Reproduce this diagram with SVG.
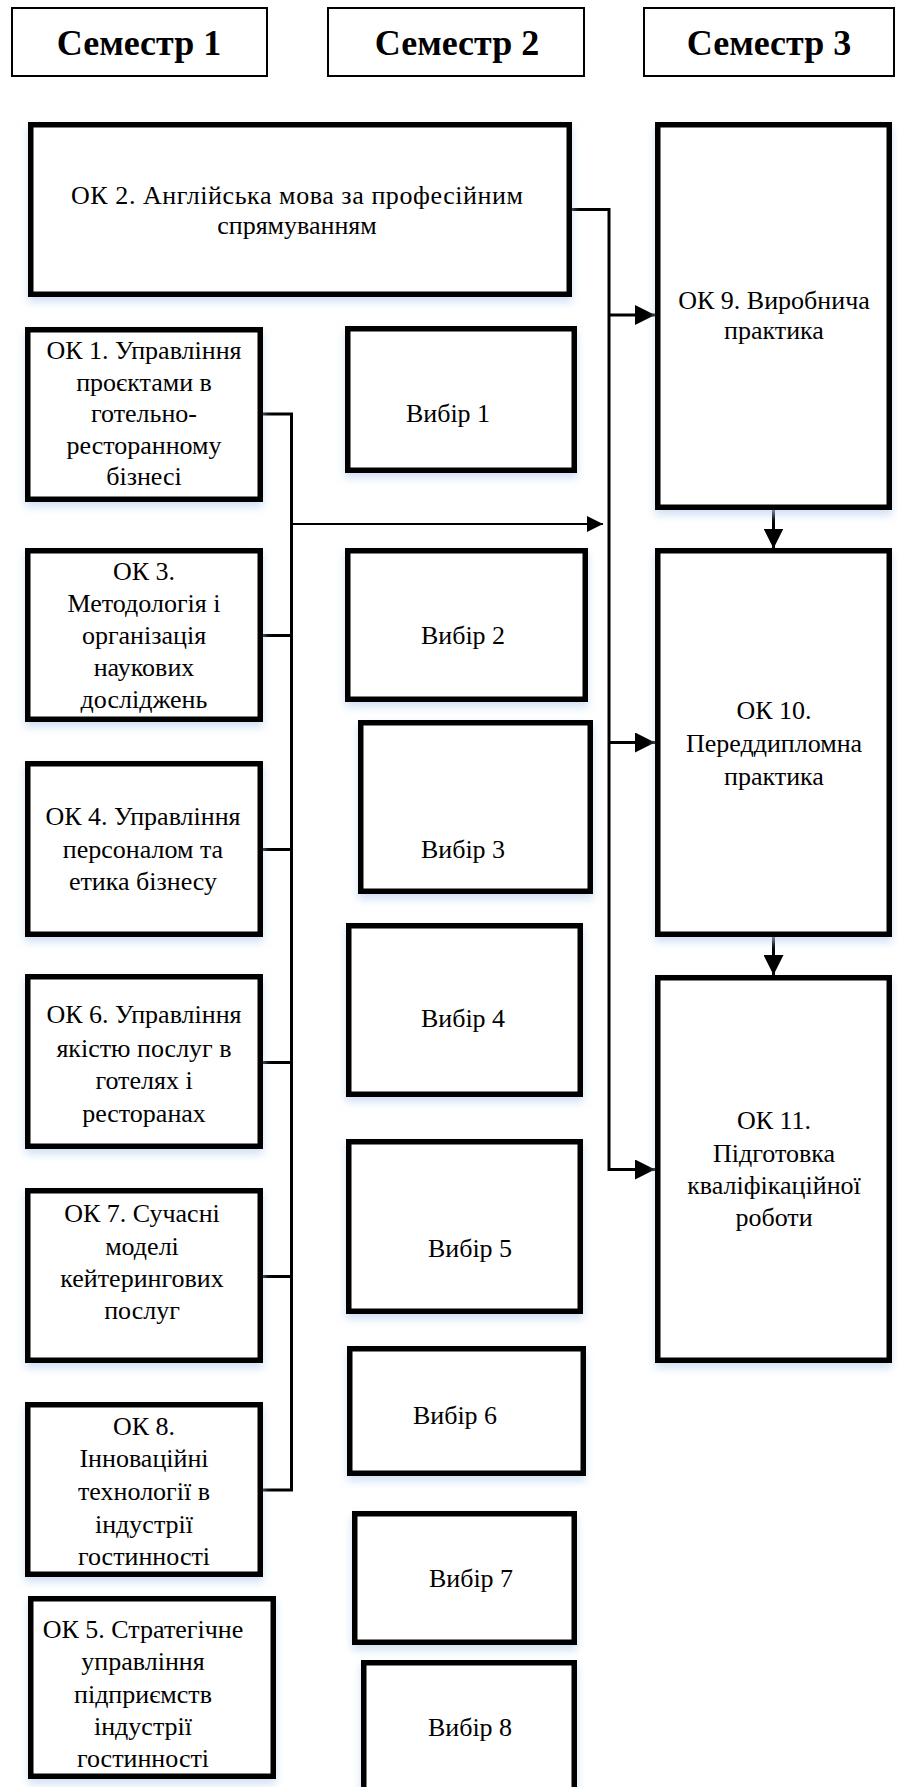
<svg xmlns="http://www.w3.org/2000/svg" width="898" height="1787" viewBox="0 0 898 1787">
<style>
.bg{fill:#ffffff}
.hdr{fill:#ffffff;stroke:#000;stroke-width:2}
.box{fill:#ffffff;stroke:#000;stroke-width:5.5;filter:url(#sh)}
.t{font-size:26px;text-anchor:middle;fill:#000}
.h{font-size:36px;font-weight:bold;text-anchor:middle;fill:#000}
.c{fill:none;stroke:#000;stroke-width:3}
.c2{fill:none;stroke:#000;stroke-width:2}
</style>
<defs>
<filter id="sh" x="-10%" y="-10%" width="120%" height="130%">
<feDropShadow dx="0" dy="5" stdDeviation="4" flood-color="#bcd2ee" flood-opacity="0.7"/>
</filter>
<marker id="ah" viewBox="0 0 20 20" refX="20" refY="10" markerWidth="20" markerHeight="20" markerUnits="userSpaceOnUse" orient="auto">
<path d="M0,0 L20,10 L0,20 Z" fill="#000"/>
</marker>
<marker id="as" viewBox="0 0 16 16" refX="16" refY="8" markerWidth="16" markerHeight="16" markerUnits="userSpaceOnUse" orient="auto">
<path d="M0,0 L16,8 L0,16 Z" fill="#000"/>
</marker>
</defs>
<rect class="bg" x="0" y="0" width="898" height="1787"/>
<g font-family="Liberation Serif, Times New Roman, DejaVu Serif, serif">
<g id="sem1"><rect class="hdr" x="12" y="8" width="255" height="68"/><text class="h" x="139" y="55">Семестр 1</text></g>
<g id="sem2"><rect class="hdr" x="328" y="8" width="256" height="68"/><text class="h" x="457" y="55">Семестр 2</text></g>
<g id="sem3"><rect class="hdr" x="644" y="8" width="250" height="68"/><text class="h" x="769" y="55">Семестр 3</text></g>

<g id="connectors">
<path class="c" d="M572,209.5 H609 V1169.5 H655" marker-end="url(#ah)"/>
<path class="c" d="M609,315 H655" marker-end="url(#ah)"/>
<path class="c" d="M609,742.5 H655" marker-end="url(#ah)"/>
<path class="c" d="M773.5,510 V548.5" marker-end="url(#ah)"/>
<path class="c" d="M773.5,937 V975" marker-end="url(#ah)"/>
<path class="c" d="M263,414 H291.5 V1490 H263"/>
<path class="c" d="M263,635.5 H291.5"/>
<path class="c" d="M263,849.5 H291.5"/>
<path class="c" d="M263,1062.5 H291.5"/>
<path class="c" d="M263,1276.5 H291.5"/>
<path class="c2" d="M291.5,524 H603" marker-end="url(#as)"/>
</g>

<g id="ok2"><rect class="box" x="30.75" y="124.75" width="538.5" height="169.5"/>
<text class="t" x="297" y="204" textLength="452" lengthAdjust="spacing">ОК 2. Англійська мова за професійним</text>
<text class="t" x="297" y="234">спрямуванням</text></g>

<g id="ok9"><rect class="box" x="657.75" y="124.75" width="231.5" height="382.5"/>
<text class="t" x="774" y="309">ОК 9. Виробнича</text>
<text class="t" x="774" y="339">практика</text></g>

<g id="ok1"><rect class="box" x="27.75" y="329.75" width="232.5" height="169.5"/>
<text class="t" x="144" y="359">ОК 1. Управління</text>
<text class="t" x="144" y="390.5">проєктами в</text>
<text class="t" x="144" y="422">готельно-</text>
<text class="t" x="144" y="453.5">ресторанному</text>
<text class="t" x="144" y="485">бізнесі</text></g>

<g id="vybir1"><rect class="box" x="347.75" y="328.75" width="226.5" height="141.5"/>
<text class="t" x="448" y="422">Вибір 1</text></g>

<g id="ok3"><rect class="box" x="27.75" y="550.75" width="232.5" height="168.5"/>
<text class="t" x="144" y="580">ОК 3.</text>
<text class="t" x="144" y="612">Методологія і</text>
<text class="t" x="144" y="644">організація</text>
<text class="t" x="144" y="676">наукових</text>
<text class="t" x="144" y="708">досліджень</text></g>

<g id="vybir2"><rect class="box" x="347.75" y="550.75" width="237.5" height="148.5"/>
<text class="t" x="463" y="644">Вибір 2</text></g>

<g id="ok10"><rect class="box" x="657.75" y="550.75" width="231.5" height="383.5"/>
<text class="t" x="774" y="719">ОК 10.</text>
<text class="t" x="774" y="752">Переддипломна</text>
<text class="t" x="774" y="785">практика</text></g>

<g id="vybir3"><rect class="box" x="360.75" y="722.75" width="229.5" height="168.5"/>
<text class="t" x="463" y="858">Вибір 3</text></g>

<g id="ok4"><rect class="box" x="27.75" y="763.75" width="232.5" height="170.5"/>
<text class="t" x="143" y="825">ОК 4. Управління</text>
<text class="t" x="143" y="857.5">персоналом та</text>
<text class="t" x="143" y="890">етика бізнесу</text></g>

<g id="vybir4"><rect class="box" x="348.75" y="925.75" width="231.5" height="168.5"/>
<text class="t" x="463" y="1027">Вибір 4</text></g>

<g id="ok6"><rect class="box" x="27.75" y="976.75" width="232.5" height="169.5"/>
<text class="t" x="144" y="1023">ОК 6. Управління</text>
<text class="t" x="144" y="1056.5">якістю послуг в</text>
<text class="t" x="144" y="1088.5">готелях і</text>
<text class="t" x="144" y="1121.5">ресторанах</text></g>

<g id="ok11"><rect class="box" x="657.75" y="977.75" width="231.5" height="382.5"/>
<text class="t" x="774" y="1129">ОК 11.</text>
<text class="t" x="774" y="1162">Підготовка</text>
<text class="t" x="774" y="1193.5">кваліфікаційної</text>
<text class="t" x="774" y="1225.5">роботи</text></g>

<g id="vybir5"><rect class="box" x="348.75" y="1141.75" width="231.5" height="169.5"/>
<text class="t" x="470" y="1257">Вибір 5</text></g>

<g id="ok7"><rect class="box" x="27.75" y="1190.75" width="232.5" height="169.5"/>
<text class="t" x="142" y="1221.5">ОК 7. Сучасні</text>
<text class="t" x="142" y="1255">моделі</text>
<text class="t" x="142" y="1286.5">кейтерингових</text>
<text class="t" x="142" y="1318.5">послуг</text></g>

<g id="vybir6"><rect class="box" x="349.75" y="1348.75" width="233.5" height="124.5"/>
<text class="t" x="455" y="1424">Вибір 6</text></g>

<g id="ok8"><rect class="box" x="27.75" y="1404.75" width="232.5" height="169.5"/>
<text class="t" x="144" y="1435">ОК 8.</text>
<text class="t" x="144" y="1467">Інноваційні</text>
<text class="t" x="144" y="1500">технології в</text>
<text class="t" x="144" y="1533">індустрії</text>
<text class="t" x="144" y="1565">гостинності</text></g>

<g id="vybir7"><rect class="box" x="354.75" y="1513.75" width="219.5" height="128.5"/>
<text class="t" x="471" y="1587">Вибір 7</text></g>

<g id="ok5"><rect class="box" x="30.75" y="1598.75" width="242.5" height="177.5"/>
<text class="t" x="143" y="1638">ОК 5. Стратегічне</text>
<text class="t" x="143" y="1670">управління</text>
<text class="t" x="143" y="1703">підприємств</text>
<text class="t" x="143" y="1735">індустрії</text>
<text class="t" x="143" y="1767">гостинності</text></g>

<g id="vybir8"><rect class="box" x="363.75" y="1662.75" width="210.5" height="150"/>
<text class="t" x="470" y="1736">Вибір 8</text></g>
</g>
</svg>
